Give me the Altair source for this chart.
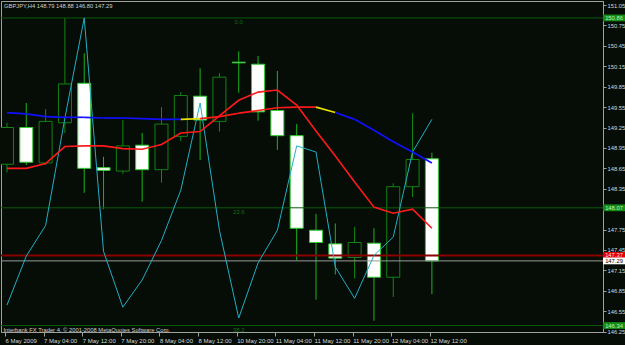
import json
import pandas as pd
import altair as alt

# ---------------- data ----------------
bar_index = list(range(23))
opens  = [148.71, 149.25, 148.73, 149.32, 149.90, 148.66, 148.61, 148.99, 148.63, 149.12, 149.71, 149.34,
          150.21, 150.18, 149.50, 149.13, 147.74, 147.54, 147.34, 147.55, 147.05, 148.38, 148.79]
highs  = [149.32, 149.61, 149.52, 150.86, 150.34, 148.82, 149.36, 149.17, 149.55, 149.77, 150.12, 150.05,
          150.37, 150.30, 150.08, 149.30, 147.98, 147.84, 147.79, 147.77, 148.43, 149.46, 148.88]
lows   = [148.59, 148.70, 148.70, 149.17, 148.29, 148.05, 148.57, 148.16, 148.44, 149.05, 148.77, 149.19,
          149.76, 149.35, 148.92, 147.30, 146.72, 147.09, 147.03, 146.41, 146.76, 148.23, 146.80]
closes = [149.25, 148.74, 149.34, 149.89, 148.65, 148.62, 148.98, 148.63, 149.30, 149.72, 149.36, 149.99,
          150.20, 149.48, 149.13, 147.77, 147.56, 147.33, 147.56, 147.05, 148.38, 148.78, 147.29]

fast_ma = [148.65, 148.65, 148.72, 148.97, 148.98, 148.98, 148.94, 148.93, 149.00, 149.17, 149.19, 149.42,
           149.65, 149.77, 149.80, 149.58, 149.20, 148.83, 148.45, 148.08, 147.99, 148.05, 147.77]
slow_ma = [149.47, 149.45, 149.41, 149.40, 149.40, 149.39, 149.39, 149.38, 149.37, 149.37, 149.38, 149.41,
           149.46, 149.50, 149.54, 149.55, 149.55, 149.47, 149.37, 149.21, 149.04, 148.89, 148.73]
slow_state = ["down"] * 9 + ["flat"] + ["up"] * 6 + ["flat"] + ["down"] * 5
osc_line = [146.64, 147.36, 147.81, 149.39, 150.86, 147.43, 146.61, 147.01, 147.59, 148.33, 149.61, 147.74,
            146.45, 147.26, 147.74, 148.98, 148.89, 147.20, 146.74, 147.37, 147.64, 148.89, 149.37]

time_tick_index = [0, 2, 4, 6, 8, 10, 12, 14, 16, 18, 20, 22]
time_tick_labels = ["6 May 2009", "7 May 04:00", "7 May 12:00", "7 May 20:00", "8 May 04:00", "8 May 12:00",
                    "10 May 20:00", "11 May 04:00", "11 May 12:00", "11 May 20:00", "12 May 04:00",
                    "12 May 12:00"]
# 148.05 is hidden behind the 23.6 level marker in the reference
price_ticks = [146.25, 146.55, 146.85, 147.15, 147.45, 147.75, 148.35, 148.65, 148.95,
               149.25, 149.55, 149.85, 150.15, 150.45, 150.75, 151.05]

fib_levels = [150.86, 148.07, 146.34]
fib_names = ["0.0", "23.6", "38.2"]
fib_anchor_bar = 12
ask_price = 147.37
bid_price = 147.29

symbol = "GBPJPY,H4"
copyright_text = "Interbank FX Trader 4, \u00a9 2001-2008 MetaQuotes Software Corp."

# ---------------- styling ----------------
BG = "#060d07"
FONT = "Liberation Sans"
GRAY = "#a0a0a0"
LABEL = "#d6d6d6"

candles = pd.DataFrame({"i": bar_index, "open": opens, "high": highs, "low": lows, "close": closes})
lines = pd.DataFrame({"i": bar_index, "fast": fast_ma, "osc": osc_line})
segs = pd.DataFrame({
    "x": bar_index[:-1], "x2": bar_index[1:],
    "y": slow_ma[:-1], "y2": slow_ma[1:], "state": slow_state,
})
fib = pd.DataFrame({"level": fib_levels, "name": fib_names, "i": [fib_anchor_bar] * len(fib_levels)})
boxes = pd.DataFrame({
    "price": [fib_levels[0], fib_levels[1], ask_price, bid_price, fib_levels[2]],
    "kind": ["fib", "fib", "ask", "bid", "fib"],
})
one = pd.DataFrame({"a": [0]})

xscale = alt.Scale(domain=[-0.05, 30.6], nice=False, zero=False)
yscale = alt.Scale(domain=[146.245, 151.109], nice=False, zero=False)

label_expr = json.dumps(time_tick_labels) + "[round(datum.value / 2)]"

x_axis = alt.Axis(values=time_tick_index, labelExpr=label_expr, tickSize=4, labelPadding=1,
                  labelFontSize=6, labelFont=FONT, labelColor=LABEL, labelAlign="left", tickOffset=-2,
                  labelBaseline="top", labelFlush=False, labelOverlap=False, labelBound=False,
                  tickColor=GRAY, domainColor=GRAY, grid=False, title=None)
y_axis = alt.Axis(orient="right", values=price_ticks, format=".2f", tickSize=3, labelPadding=1,
                  labelFontSize=5.8, labelFont=FONT, labelColor=LABEL, labelAlign="left",
                  labelBaseline="middle", labelFlush=False, labelOverlap=False,
                  tickColor=GRAY, domainColor=GRAY, grid=False, title=None)


def X(field):
    return alt.X(field, scale=xscale, axis=x_axis)


def Y(field):
    return alt.Y(field, scale=yscale, axis=y_axis)


is_bull = "datum.close > datum.open"

wicks = alt.Chart(candles).mark_rule(strokeWidth=1, clip=True).encode(
    x=X("i:Q"), y=Y("low:Q"), y2="high:Q",
    color=alt.condition(is_bull, alt.value("#138a13"), alt.value("#1cb41c")),
)

bodies = alt.Chart(candles).mark_bar(size=13, strokeWidth=1, clip=True).encode(
    x=X("i:Q"), y=Y("open:Q"), y2="close:Q",
    fill=alt.condition(is_bull, alt.value(BG), alt.value("#ffffff")),
    stroke=alt.condition(is_bull, alt.value("#148214"), alt.value("#33cc33")),
)

fib_rules = alt.Chart(fib).mark_rule(color="#0b5a0b", strokeWidth=1).encode(y=Y("level:Q"))
fib_text = alt.Chart(fib).mark_text(font=FONT, fontSize=6, color="#0e6e0e", align="center",
                                    baseline="middle", dy=4).encode(
    x=X("i:Q"), y=Y("level:Q"), text="name:N",
)

ask_rule = alt.Chart(one).transform_calculate(p=str(ask_price)).mark_rule(
    color="#8a0000", strokeWidth=2).encode(y=Y("p:Q"))
bid_rule = alt.Chart(one).transform_calculate(p=str(bid_price)).mark_rule(
    color="#9a9a9a", strokeWidth=1).encode(y=Y("p:Q"))

osc = alt.Chart(lines).mark_line(color="#22aec4", strokeWidth=1, clip=True).encode(
    x=X("i:Q"), y=Y("osc:Q"))
fast = alt.Chart(lines).mark_line(color="#ff1a1a", strokeWidth=1.6, clip=True).encode(
    x=X("i:Q"), y=Y("fast:Q"))
slow = alt.Chart(segs).mark_rule(strokeWidth=1.7, clip=True).encode(
    x=X("x:Q"), x2="x2:Q", y=Y("y:Q"), y2="y2:Q",
    color=alt.Color("state:N", scale=alt.Scale(domain=["down", "flat", "up"],
                                               range=["#1010ff", "#e8e000", "#ff1a1a"]), legend=None),
)

title_str = f"{symbol}  {opens[-1]:.2f} {highs[-1]:.2f} {lows[-1]:.2f} {closes[-1]:.2f}"
title = alt.Chart(one).mark_text(font=FONT, fontSize=5.8, color="#cfcfcf", align="left",
                                 baseline="middle").encode(
    x=alt.value(3), y=alt.value(5), text=alt.value(title_str))
copy = alt.Chart(one).mark_text(font=FONT, fontSize=5.8, color="#cfcfcf", align="left",
                                baseline="middle").encode(
    x=alt.value(2.5), y=alt.value(328.5), text=alt.value(copyright_text))

box_colors = alt.Scale(domain=["fib", "ask", "bid"], range=["#178c17", "#e00000", "#ffffff"])
text_colors = alt.Scale(domain=["fib", "ask", "bid"], range=["#b8f5b8", "#ffd6d6", "#000000"])


def price_box(filter_expr):
    base = alt.Chart(boxes).transform_filter(filter_expr)
    rect = base.transform_calculate(
        top="datum.price + 0.05", bot="datum.price - 0.05"
    ).mark_rect().encode(
        x=alt.value(602), x2=alt.value(624),
        y=Y("top:Q"), y2="bot:Q",
        fill=alt.Color("kind:N", scale=box_colors, legend=None),
    )
    txt = base.mark_text(font=FONT, fontSize=5.8, align="center", baseline="middle").encode(
        x=alt.value(613), y=Y("price:Q"),
        text=alt.Text("price:Q", format=".2f"),
        color=alt.Color("kind:N", scale=text_colors, legend=None),
    )
    return [rect, txt]


chart = alt.layer(
    wicks, bodies, fib_rules, ask_rule, bid_rule, osc, fast, slow, fib_text, title, copy,
    *price_box("datum.kind != 'bid'"), *price_box("datum.kind == 'bid'"),
).resolve_scale(color="independent").properties(
    width=602, height=331, background=BG,
    padding={"left": 1, "top": 1, "right": 22, "bottom": 13},
    autosize="none",
).configure_view(stroke=GRAY, strokeWidth=1)

chart.save("out.html", embed_options={"renderer": "svg", "actions": False})
